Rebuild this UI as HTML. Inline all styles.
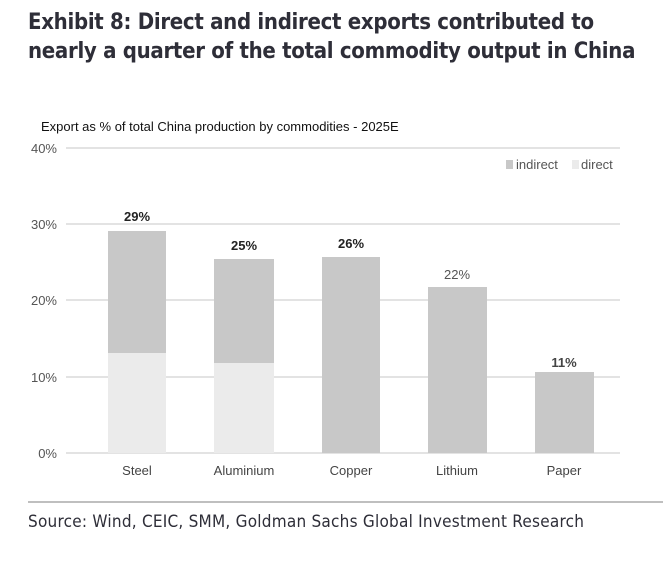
<!DOCTYPE html>
<html><head><meta charset="utf-8"><style>
body{margin:0;background:#fff;width:663px;height:564px;overflow:hidden;font-family:"Liberation Sans",sans-serif}
.t{position:absolute;left:28px;top:8px;font-size:22px;font-weight:bold;color:#2e2e38;line-height:29px;letter-spacing:-0.3px;font-family:"DejaVu Sans Condensed","Liberation Sans",sans-serif}
</style></head><body>
<div class="t">Exhibit 8: Direct and indirect exports contributed to<br>nearly a quarter of the total commodity output in China</div>
<svg width="663" height="564" style="position:absolute;left:0;top:0" font-family="Liberation Sans, sans-serif">
<text x="41" y="131" font-size="13" fill="#111">Export as % of total China production by commodities - 2025E</text>
<g stroke="#e3e3e3" stroke-width="2">
<line x1="66" x2="620" y1="148" y2="148"/><line x1="66" x2="620" y1="224" y2="224"/>
<line x1="66" x2="620" y1="300" y2="300"/><line x1="66" x2="620" y1="377" y2="377"/>
<line x1="66" x2="620" y1="453" y2="453"/></g>
<g font-size="13" fill="#555" text-anchor="end">
<text x="57" y="153">40%</text><text x="57" y="229">30%</text><text x="57" y="305">20%</text><text x="57" y="382">10%</text><text x="57" y="458">0%</text></g>
<rect x="506" y="160" width="7" height="9" fill="#c8c8c8"/><text x="516" y="169" font-size="13" fill="#555">indirect</text>
<rect x="572" y="160" width="7" height="9" fill="#ebebeb"/><text x="581" y="169" font-size="13" fill="#555">direct</text>
<g fill="#c8c8c8">
<rect x="108" y="231" width="58" height="122"/><rect x="214" y="259" width="60" height="104"/>
<rect x="322" y="257" width="58" height="196"/><rect x="428" y="287" width="59" height="166"/>
<rect x="535" y="372" width="59" height="81"/></g>
<g fill="#ebebeb"><rect x="108" y="353" width="58" height="100"/><rect x="214" y="363" width="60" height="90"/></g>
<g font-size="13" text-anchor="middle" font-weight="bold">
<text x="137" y="221" fill="#222">29%</text><text x="244" y="250" fill="#222">25%</text>
<text x="351" y="248" fill="#222">26%</text><text x="457" y="279" fill="#555" font-weight="normal">22%</text>
<text x="564" y="367" fill="#444">11%</text></g>
<g font-size="13" fill="#444" text-anchor="middle">
<text x="137" y="475">Steel</text><text x="244" y="475">Aluminium</text><text x="351" y="475">Copper</text>
<text x="457" y="475">Lithium</text><text x="564" y="475">Paper</text></g>
<line x1="28" x2="663" y1="502" y2="502" stroke="#aaa" stroke-width="1.5"/>
<text x="28" y="527" font-size="17" fill="#2e2e38" font-family="DejaVu Sans Condensed, Liberation Sans, sans-serif" textLength="556">Source: Wind, CEIC, SMM, Goldman Sachs Global Investment Research</text>
</svg>
</body></html>
